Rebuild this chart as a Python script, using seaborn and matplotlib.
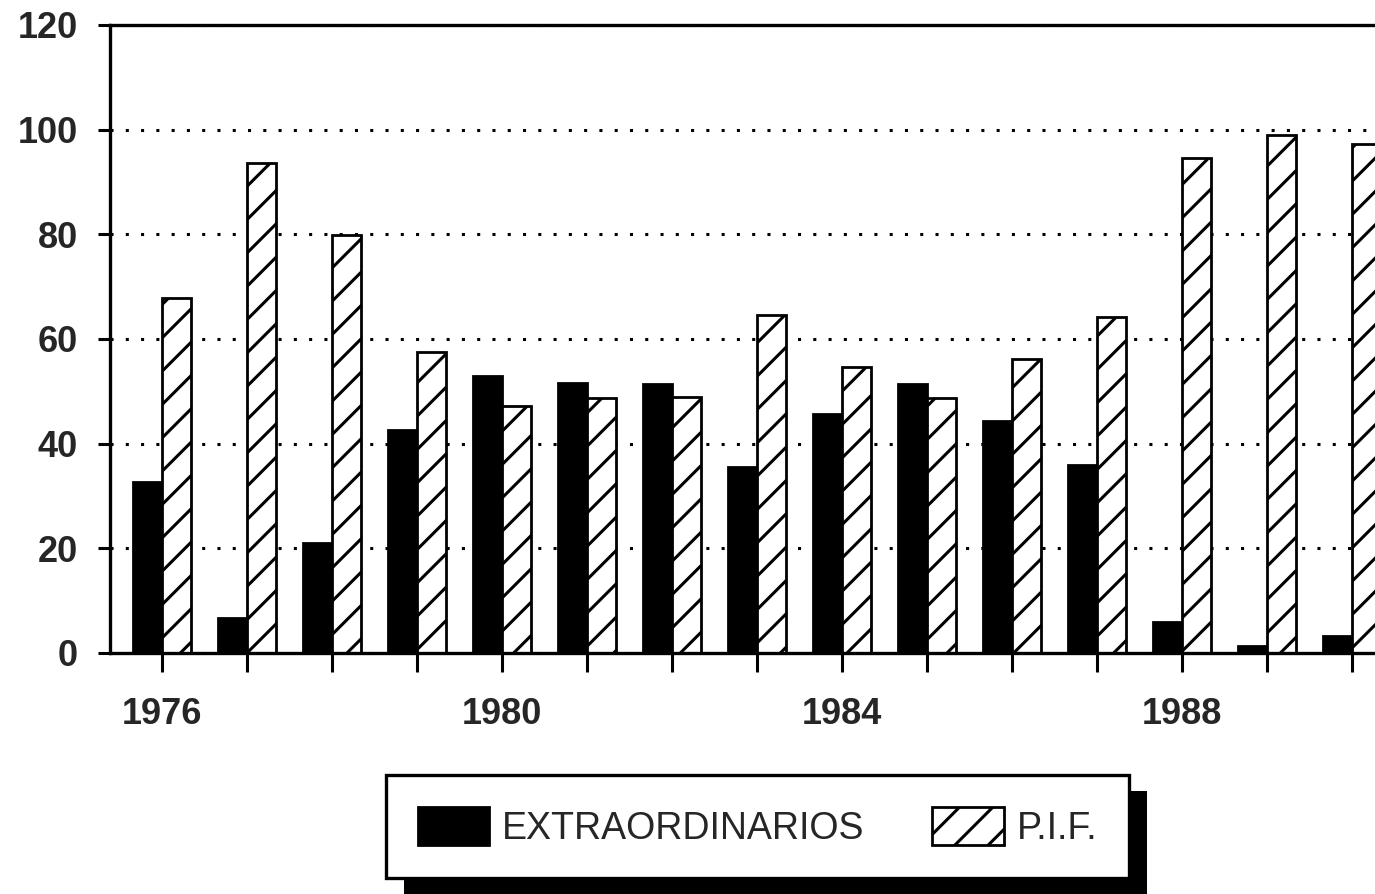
import matplotlib
matplotlib.use("Agg")
import matplotlib.pyplot as plt
from matplotlib.patches import Rectangle
import seaborn as sns
import pandas as pd

# Data
years = [1976, 1977, 1978, 1979, 1980, 1981, 1982, 1983, 1984, 1985, 1986, 1987, 1988, 1989, 1990]
extraordinarios = [32.7, 6.6, 21.1, 42.6, 52.9, 51.5, 51.3, 35.6, 45.7, 51.4, 44.3, 35.9, 6.0, 1.4, 3.3]
pif = [67.9, 93.6, 79.9, 57.6, 47.2, 48.8, 49.0, 64.6, 54.7, 48.7, 56.2, 64.2, 94.5, 98.9, 97.2]
series_names = ["EXTRAORDINARIOS", "P.I.F."]
labelled_years = [1976, 1980, 1984, 1988]
y_ticks = [0, 20, 40, 60, 80, 100, 120]

df = pd.DataFrame({
    "year": [str(y) for y in years] * 2,
    "value": extraordinarios + pif,
    "serie": [series_names[0]] * len(years) + [series_names[1]] * len(years),
})

sns.set_theme(style="white")
plt.rcParams["font.family"] = ["Liberation Sans Narrow", "Liberation Sans", "DejaVu Sans"]
plt.rcParams["hatch.linewidth"] = 2.2
plt.rcParams["hatch.color"] = "black"

fig = plt.figure(figsize=(13.75, 8.94), dpi=100)
ax = fig.add_axes([0.08, 0.2696, 0.92, 0.7025])

sns.barplot(data=df, x="year", y="value", hue="serie", hue_order=series_names,
            palette=["black", "white"], width=0.68, saturation=1,
            edgecolor="black", linewidth=2.0, legend=False, ax=ax)

for patch in ax.containers[1]:
    patch.set_hatch("/")
    patch.set_facecolor("white")
    patch.set_edgecolor("black")

ax.set_xlim(-0.61, 14.27)
ax.set_ylim(0, 120)
ax.set_xlabel("")
ax.set_ylabel("")

# Axes frame: left, bottom and top lines; open on the right
for side in ["left", "bottom", "top"]:
    ax.spines[side].set_visible(True)
    ax.spines[side].set_color("black")
    ax.spines[side].set_linewidth(2.4)
ax.spines["right"].set_visible(False)

ax.set_axisbelow(True)
ax.yaxis.grid(True, color="black", linestyle=(0, (1, 4)), linewidth=2.2)
ax.xaxis.grid(False)

ax.set_yticks(y_ticks)
ax.set_yticklabels([str(v) for v in y_ticks], fontsize=26, fontweight="bold")
ax.set_xticks(range(len(years)))
ax.set_xticklabels([str(y) if y in labelled_years else "" for y in years],
                   fontsize=26, fontweight="bold")
ax.tick_params(axis="x", direction="out", length=14, width=2.2, color="black", pad=18, bottom=True)
ax.tick_params(axis="y", direction="out", length=9, width=2.2, color="black", pad=14, left=True)

handles = [ax.containers[0], ax.containers[1]]
leg = fig.legend(handles, series_names, loc="center", bbox_to_anchor=(0.551, 0.075),
                 ncol=2, frameon=True, fancybox=False, framealpha=1,
                 edgecolor="black", fontsize=27, handlelength=1.9, handleheight=1.15,
                 handletextpad=0.35, columnspacing=1.8, borderpad=0.85)
leg.get_frame().set_linewidth(2.4)
leg.set_zorder(5)

# Solid drop shadow under the legend box
fig.canvas.draw()
bb = leg.get_window_extent().transformed(fig.transFigure.inverted())
dx, dy = 18 / 1375, 16 / 894
shadow = Rectangle((bb.x0 + dx, bb.y0 - dy), bb.width, bb.height,
                   transform=fig.transFigure, facecolor="black", edgecolor="none", zorder=4)
fig.add_artist(shadow)

fig.savefig("out.png", dpi=100, facecolor="white")
